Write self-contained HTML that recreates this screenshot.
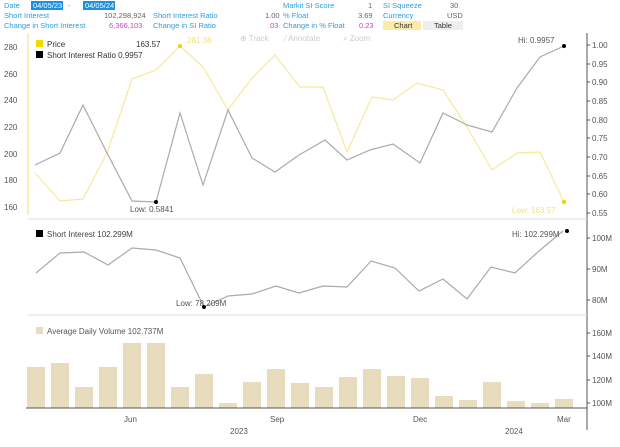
<!DOCTYPE html>
<html><head><meta charset="utf-8"><style>
body{margin:0;background:#fff;width:620px;height:442px;overflow:hidden;font-family:"Liberation Sans",sans-serif}
svg text{font-family:"Liberation Sans",sans-serif}
</style></head><body>
<svg width="620" height="442" viewBox="0 0 620 442">
<g font-size="7.5" fill="#2aa0dc">
<text x="4" y="8">Date</text>
<rect x="31" y="1" width="32" height="9" fill="#1e90e0"/><text x="33" y="8" fill="#fff">04/05/23</text>
<text x="68" y="8">-</text>
<rect x="83" y="1" width="32" height="9" fill="#1e90e0"/><text x="85" y="8" fill="#fff">04/05/24</text>
<text x="4" y="18">Short Interest</text><text x="104" y="18" fill="#666">102,298,924</text>
<text x="4" y="28">Change in Short Interest</text><text x="109" y="28" fill="#d040c0">6,366,103</text>
<text x="153" y="18">Short Interest Ratio</text><text x="265" y="18" fill="#666">1.00</text>
<text x="153" y="28">Change in SI Ratio</text><text x="268" y="28" fill="#d040c0">.03</text>
<text x="283" y="8">Markit SI Score</text><text x="368" y="8" fill="#666">1</text>
<text x="283" y="18">% Float</text><text x="358" y="18" fill="#666">3.69</text>
<text x="283" y="28">Change in % Float</text><text x="359" y="28" fill="#d040c0">0.23</text>
<text x="383" y="8">SI Squeeze</text><text x="450" y="8" fill="#666">30</text>
<text x="383" y="18">Currency</text><text x="447" y="18" fill="#666">USD</text>
<rect x="383" y="21" width="38" height="9" fill="#fbeaa8"/><text x="394" y="28" fill="#333">Chart</text>
<rect x="423" y="21" width="40" height="9" fill="#eee"/><text x="434" y="28" fill="#333">Table</text>
</g>
<g font-size="8" fill="#ccc"><text x="240" y="41">⊕ Track</text><text x="285" y="41">⁄ Annotate</text><text x="343" y="41">⌕ Zoom</text></g>
<line x1="28" y1="33" x2="28" y2="215" stroke="#f3e27a"/>
<line x1="587" y1="33" x2="587" y2="430" stroke="#555"/>
<line x1="28" y1="219" x2="587" y2="219" stroke="#ddd"/>
<line x1="28" y1="315" x2="587" y2="315" stroke="#ddd"/>
<g stroke="#555">
<line x1="587" y1="45" x2="590" y2="45"/><line x1="587" y1="64" x2="590" y2="64"/><line x1="587" y1="82" x2="590" y2="82"/><line x1="587" y1="101" x2="590" y2="101"/><line x1="587" y1="120" x2="590" y2="120"/><line x1="587" y1="138" x2="590" y2="138"/><line x1="587" y1="157" x2="590" y2="157"/><line x1="587" y1="176" x2="590" y2="176"/><line x1="587" y1="194" x2="590" y2="194"/><line x1="587" y1="213" x2="590" y2="213"/>
<line x1="587" y1="238" x2="590" y2="238"/><line x1="587" y1="269" x2="590" y2="269"/><line x1="587" y1="300" x2="590" y2="300"/>
<line x1="587" y1="333" x2="590" y2="333"/><line x1="587" y1="356" x2="590" y2="356"/><line x1="587" y1="380" x2="590" y2="380"/><line x1="587" y1="403" x2="590" y2="403"/>
</g>
<g font-size="8" fill="#555">
<text x="4" y="50">280</text><text x="4" y="77">260</text><text x="4" y="103">240</text><text x="4" y="130">220</text><text x="4" y="157">200</text><text x="4" y="183">180</text><text x="4" y="210">160</text>
<text x="592" y="48">1.00</text><text x="592" y="67">0.95</text><text x="592" y="85">0.90</text><text x="592" y="104">0.85</text><text x="592" y="123">0.80</text><text x="592" y="141">0.75</text><text x="592" y="160">0.70</text><text x="592" y="179">0.65</text><text x="592" y="197">0.60</text><text x="592" y="216">0.55</text>
<text x="592" y="241">100M</text><text x="592" y="272">90M</text><text x="592" y="303">80M</text>
<text x="592" y="336">160M</text><text x="592" y="359">140M</text><text x="592" y="383">120M</text><text x="592" y="406">100M</text>
</g>
<polyline fill="none" stroke="#f5ea9a" stroke-width="1.2" points="35,173 60,201 83,199 107,153 132,79 156,70 180,46 203,67 228,110 252,78 275,55 300,87 323,87 347,152 372,97 393,100 417,83 443,90 467,127 492,170 517,153 540,152 564,202"/>
<polyline fill="none" stroke="#aaa" stroke-width="1.2" points="35,165 60,153 83,105 107,153 132,201 156,202 180,113 203,185 228,110 252,158 275,172 299,155 325,140 347,160 370,150 393,144 420,163 443,113 467,125 492,132 517,88 540,57 564,46"/>
<circle cx="180" cy="46" r="2" fill="#f0d000"/><circle cx="564" cy="202" r="2" fill="#f0d000"/>
<circle cx="156" cy="202" r="2" fill="#000"/><circle cx="564" cy="46" r="2" fill="#000"/>
<g font-size="8">
<text x="187" y="43" fill="#f3e27a">281.38</text>
<text x="130" y="212" fill="#555">Low: 0.5841</text>
<text x="518" y="43" fill="#555">Hi: 0.9957</text>
<text x="512" y="213" fill="#f3e27a">Low: 163.57</text>
<rect x="36" y="40" width="7" height="7" fill="#f5d800"/><text x="47" y="47" fill="#333">Price</text><text x="136" y="47" fill="#333">163.57</text>
<rect x="36" y="51" width="7" height="7" fill="#000"/><text x="47" y="58" fill="#333">Short Interest Ratio 0.9957</text>
</g>
<polyline fill="none" stroke="#aaa" stroke-width="1.2" points="36,273 60,253 84,252 108,265 132,248 156,250 180,258 204,307 228,296 252,294 276,286 299,293 323,286 347,287 371,261 395,268 419,291 443,279 467,299 491,267 515,273 539,251 563,231"/>
<circle cx="204" cy="307" r="2" fill="#000"/><circle cx="567" cy="231" r="2" fill="#000"/>
<g font-size="8"><rect x="36" y="230" width="7" height="7" fill="#000"/><text x="47" y="237" fill="#444">Short Interest 102.299M</text>
<text x="176" y="306" fill="#555">Low: 78.209M</text><text x="512" y="237" fill="#555">Hi: 102.299M</text></g>
<g fill="#e8dcbf">
<rect x="27" y="367" width="18" height="41"/><rect x="51" y="363" width="18" height="45"/><rect x="75" y="387" width="18" height="21"/><rect x="99" y="367" width="18" height="41"/><rect x="123" y="343" width="18" height="65"/><rect x="147" y="343" width="18" height="65"/><rect x="171" y="387" width="18" height="21"/><rect x="195" y="374" width="18" height="34"/><rect x="219" y="403" width="18" height="5"/><rect x="243" y="382" width="18" height="26"/><rect x="267" y="369" width="18" height="39"/><rect x="291" y="383" width="18" height="25"/><rect x="315" y="387" width="18" height="21"/><rect x="339" y="377" width="18" height="31"/><rect x="363" y="369" width="18" height="39"/><rect x="387" y="376" width="18" height="32"/><rect x="411" y="378" width="18" height="30"/><rect x="435" y="396" width="18" height="12"/><rect x="459" y="400" width="18" height="8"/><rect x="483" y="382" width="18" height="26"/><rect x="507" y="401" width="18" height="7"/><rect x="531" y="403" width="18" height="5"/><rect x="555" y="399" width="18" height="9"/>
<rect x="36" y="327" width="7" height="7"/></g>
<text x="47" y="334" font-size="8" fill="#555">Average Daily Volume 102.737M</text>
<line x1="26" y1="408" x2="587" y2="408" stroke="#555"/>
<g font-size="8" fill="#555"><text x="124" y="422">Jun</text><text x="270" y="422">Sep</text><text x="413" y="422">Dec</text><text x="557" y="422">Mar</text>
<text x="230" y="434">2023</text><text x="505" y="434">2024</text></g>
</svg>
</body></html>
